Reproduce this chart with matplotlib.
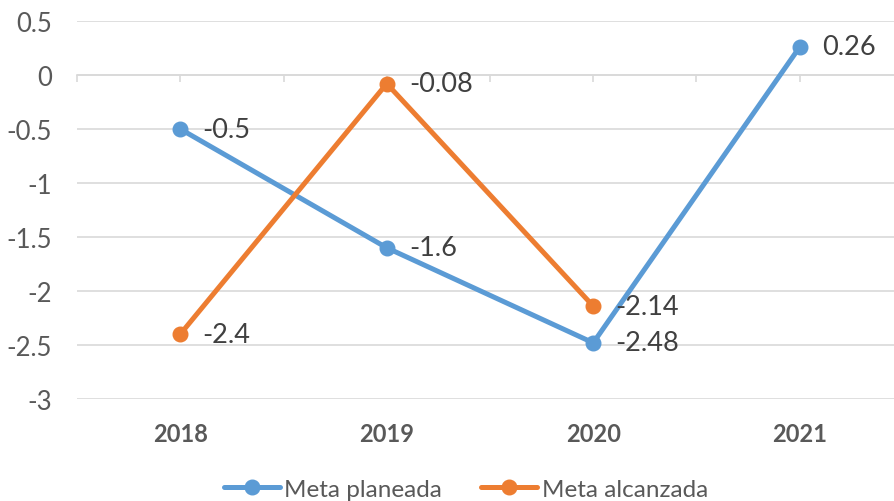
import numpy as np
import matplotlib.pyplot as plt

# datos
years = ["2018", "2019", "2020", "2021"]
meta_planeada = [-0.5, -1.6, -2.48, 0.26]
meta_alcanzada = [-2.4, -0.08, -2.14]
y_ticks = [0.5, 0, -0.5, -1, -1.5, -2, -2.5, -3]
y_labels = ["0.5", "0", "-0.5", "-1", "-1.5", "-2", "-2.5", "-3"]

blue = "#5B9BD5"
orange = "#ED7D31"
grid = "#D9D9D9"

plt.rcParams['font.family'] = ['Lato', 'DejaVu Sans']

fig = plt.figure(figsize=(8.94, 5.02), dpi=100)
ax = fig.add_axes([77/894, 1-400/502, (903-77)/894, (400-22)/502])

x1 = np.arange(len(meta_planeada))
x2 = np.arange(len(meta_alcanzada))

ax.plot(x1, meta_planeada, color=blue, lw=3.6, marker="o", ms=10.5,
        solid_capstyle="round", label="Meta planeada", zorder=3)
ax.plot(x2, meta_alcanzada, color=orange, lw=3.6, marker="o", ms=10.5,
        solid_capstyle="round", label="Meta alcanzada", zorder=3)

# etiquetas de datos
for xs, ys in [(x1, meta_planeada), (x2, meta_alcanzada)]:
    for x, y in zip(xs, ys):
        ax.annotate(f"{y:g}", (x, y), xytext=(16, 0), textcoords="offset points",
                    ha="left", va="center", fontsize=19.5, color="#404040")

ax.set_xlim(-0.5, 3.5)
ax.set_ylim(-3, 0.5)
ax.set_yticks(y_ticks)
ax.set_yticklabels(y_labels, fontsize=18.5, color="#595959")
ax.tick_params(axis="y", length=0, pad=18)
ax.yaxis.grid(True, color=grid, lw=1.2)
ax.set_axisbelow(True)

for s in ["left", "right", "top"]:
    ax.spines[s].set_visible(False)
ax.spines["bottom"].set_position(("data", 0))
ax.spines["bottom"].set_color(grid)
ax.spines["bottom"].set_linewidth(1.2)
ax.set_xticks(np.arange(-0.5, 3.6, 0.5))
ax.set_xticklabels([])
ax.tick_params(axis="x", direction="out", length=5, width=1.2, color=grid)

for i, yr in enumerate(years):
    ax.annotate(yr, (i, -3), xytext=(0, -25), textcoords="offset points",
                ha="center", va="center", fontsize=17, fontweight="bold", color="#595959")

fig.legend(loc="center", bbox_to_anchor=(466/894, 1-490/502), ncol=2, frameon=False,
           fontsize=17.5, handlelength=2.3, handletextpad=0.2, columnspacing=1.6,
           labelcolor="#595959")

plt.savefig("out.png", dpi=100)
